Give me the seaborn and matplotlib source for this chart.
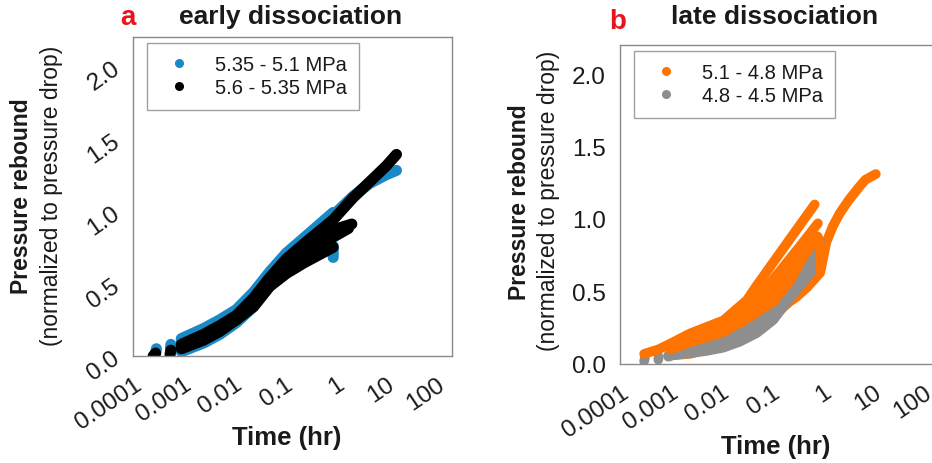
import numpy as np
import pandas as pd
import seaborn as sns
import matplotlib
matplotlib.use("Agg")
import matplotlib.pyplot as plt
from matplotlib.lines import Line2D

# ---------------- data ----------------
# panel a: early dissociation
a_series = ["5.35 - 5.1 MPa", "5.6 - 5.35 MPa"]
a_colors = ["#1a8ac6", "#000000"]

a_t = [0.0009, 0.0025, 0.0052, 0.011, 0.024, 0.05, 0.107, 0.23, 0.9]

blue_run1_t = a_t + [2.2, 4.7, 10, 16]
blue_run1_y = [0.11, 0.18, 0.24, 0.31, 0.43, 0.57, 0.70, 0.80, 0.97, 1.10, 1.19, 1.25, 1.28]
blue_run2_t = a_t + [0.9]
blue_run2_y = [0.03, 0.09, 0.15, 0.23, 0.34, 0.48, 0.57, 0.64, 0.76, 0.68]
blue_run3_t = a_t
blue_run3_y = [0.12, 0.19, 0.25, 0.32, 0.44, 0.58, 0.71, 0.81, 0.99]
blue_dot1_t = [0.00028, 0.00029]
blue_dot1_y = [0.02, 0.05]
blue_dot2_t = [0.00055, 0.00056]
blue_dot2_y = [0.05, 0.08]

black_run1_t = a_t + [2.2, 4.7, 10, 16]
black_run1_y = [0.08, 0.15, 0.21, 0.28, 0.40, 0.54, 0.67, 0.77, 0.94, 1.09, 1.20, 1.31, 1.39]
black_run2_t = a_t + [2.1]
black_run2_y = [0.07, 0.13, 0.19, 0.26, 0.37, 0.51, 0.62, 0.71, 0.87, 0.91]
black_run3_t = a_t + [1.8]
black_run3_y = [0.06, 0.12, 0.18, 0.25, 0.36, 0.50, 0.60, 0.68, 0.82, 0.88]
black_run4_t = a_t
black_run4_y = [0.05, 0.11, 0.17, 0.25, 0.34, 0.48, 0.57, 0.64, 0.75]
black_dot1_t = [0.00025, 0.00028]
black_dot1_y = [0.0, 0.02]
black_dot2_t = [0.00054, 0.00056]
black_dot2_y = [0.01, 0.04]

# panel b: late dissociation
b_series = ["5.1 - 4.8 MPa", "4.8 - 4.5 MPa"]
b_colors = ["#ff7300", "#8e8e8e"]

orange_run1_t = [0.0003, 0.00057, 0.00098, 0.0024, 0.011, 0.032, 0.05, 0.106, 0.225, 0.7]
orange_run1_y = [0.07, 0.10, 0.14, 0.21, 0.30, 0.44, 0.54, 0.70, 0.86, 1.10]
orange_run2_t = [0.00098, 0.0024, 0.011, 0.032, 0.05, 0.144, 0.355, 0.81]
orange_run2_y = [0.12, 0.18, 0.26, 0.38, 0.45, 0.64, 0.81, 0.97]
orange_run3_t = [0.00098, 0.0024, 0.011, 0.032, 0.05, 0.106, 0.225, 0.48, 0.8, 0.92, 0.92, 0.9]
orange_run3_y = [0.10, 0.15, 0.22, 0.32, 0.38, 0.51, 0.62, 0.77, 0.88, 0.82, 0.74, 0.65]
orange_run5_t = [0.0011, 0.0051, 0.023, 0.106, 0.225, 0.48, 0.8]
orange_run5_y = [0.12, 0.19, 0.28, 0.43, 0.57, 0.78, 0.87]
orange_run4_t = [0.00098, 0.0024, 0.011, 0.05, 0.106, 0.225, 0.3, 0.5, 0.9, 1.19,
                 1.6, 2.2, 3.3, 5, 7, 11.3]
orange_run4_y = [0.06, 0.07, 0.13, 0.24, 0.33, 0.43, 0.46, 0.53, 0.63, 0.84,
                 0.95, 1.04, 1.13, 1.21, 1.27, 1.31]

gray_t = [0.0009, 0.0011, 0.0051, 0.011, 0.023, 0.05, 0.106, 0.225, 0.48, 0.9]
gray_run1_y = [0.06, 0.067, 0.137, 0.177, 0.227, 0.287, 0.377, 0.517, 0.727, 0.847]
gray_run2_y = [0.055, 0.063, 0.113, 0.145, 0.19, 0.25, 0.34, 0.485, 0.66, 0.78]
gray_run3_y = [0.05, 0.06, 0.09, 0.113, 0.153, 0.213, 0.303, 0.453, 0.593, 0.713]
gray_dot1_t = [0.0003, 0.00031]
gray_dot1_y = [0.02, 0.04]
gray_dot2_t = [0.00057, 0.00058]
gray_dot2_y = [0.03, 0.05]

x_ticks = [0.0001, 0.001, 0.01, 0.1, 1, 10, 100]
x_tick_labels = ["0.0001", "0.001", "0.01", "0.1", "1", "10", "100"]
y_ticks = [0.0, 0.5, 1.0, 1.5, 2.0]
y_tick_labels = ["0.0", "0.5", "1.0", "1.5", "2.0"]


def build(runs):
    rows = []
    for layer, ser, run, ts, ys in runs:
        for t, y in zip(ts, ys):
            rows.append({"layer": layer, "series": ser, "run": run, "time": t, "value": y})
    return pd.DataFrame(rows)


df_a = build([
    (0, a_series[0], "b1", blue_run1_t, blue_run1_y),
    (0, a_series[0], "b2", blue_run2_t, blue_run2_y),
    (0, a_series[0], "b3", blue_run3_t, blue_run3_y),
    (0, a_series[0], "b4", blue_dot1_t, blue_dot1_y),
    (0, a_series[0], "b5", blue_dot2_t, blue_dot2_y),
    (1, a_series[1], "k1", black_run1_t, black_run1_y),
    (1, a_series[1], "k2", black_run2_t, black_run2_y),
    (1, a_series[1], "k3", black_run3_t, black_run3_y),
    (1, a_series[1], "k4", black_run4_t, black_run4_y),
    (1, a_series[1], "k5", black_dot1_t, black_dot1_y),
    (1, a_series[1], "k6", black_dot2_t, black_dot2_y),
])
df_b = build([
    (0, b_series[0], "o4", orange_run4_t, orange_run4_y),
    (1, b_series[1], "g1", gray_t, gray_run1_y),
    (1, b_series[1], "g2", gray_t, gray_run2_y),
    (1, b_series[1], "g3", gray_t, gray_run3_y),
    (1, b_series[1], "g5", gray_dot1_t, gray_dot1_y),
    (1, b_series[1], "g6", gray_dot2_t, gray_dot2_y),
    (2, b_series[0], "o5", orange_run5_t, orange_run5_y),
    (2, b_series[0], "o3", orange_run3_t, orange_run3_y),
    (2, b_series[0], "o2", orange_run2_t, orange_run2_y),
    (2, b_series[0], "o1", orange_run1_t, orange_run1_y),
])

# ---------------- style ----------------
sns.set_style("white")
plt.rcParams["font.family"] = ["Liberation Sans", "DejaVu Sans"]

SPINE = "#8a8a8a"
TXT = "#1a1a1a"

fig = plt.figure(figsize=(9.32, 4.64), dpi=100)
ax_a = fig.add_axes([133 / 932, 1 - 357 / 464, 319 / 932, 319 / 464])
ax_b = fig.add_axes([620 / 932, 1 - 365 / 464, 319 / 932, 319 / 464])


def draw(ax, df, series, colors, lw):
    pal = dict(zip(series, colors))
    for layer in sorted(df["layer"].unique()):
        sub = df[df["layer"] == layer]
        sns.lineplot(data=sub, x="time", y="value", hue="series",
                     palette={s: pal[s] for s in sub["series"].unique()},
                     units="run", estimator=None, sort=False, linewidth=lw,
                     legend=False, ax=ax)
    for ln in ax.lines:
        ln.set_solid_capstyle("round")
        ln.set_solid_joinstyle("round")
    ax.set_xscale("log")
    ax.set_xlim(1e-4, 200)
    ax.set_ylim(0, 2.2)
    ax.set_xticks(x_ticks)
    ax.set_xticklabels(x_tick_labels)
    ax.minorticks_off()
    ax.set_yticks(y_ticks)
    ax.set_yticklabels(y_tick_labels)
    ax.set_xlabel("")
    ax.set_ylabel("")
    for s in ax.spines.values():
        s.set_color(SPINE)
        s.set_linewidth(1.0)
    ax.tick_params(axis="both", which="major", length=5, width=1, color=SPINE,
                   labelsize=17.5, labelcolor=TXT, direction="out")
    for lbl in ax.get_xticklabels():
        lbl.set_rotation(34)
        lbl.set_ha("right")
        lbl.set_va("top")
        lbl.set_rotation_mode("anchor")
    handles = [Line2D([], [], marker="o", ls="", color=c, markersize=5.5) for c in colors]
    leg = ax.legend(handles, series, loc="upper left", bbox_to_anchor=(0.044, 0.98),
                    borderaxespad=0, fontsize=14.5, frameon=True, fancybox=False,
                    borderpad=0.6, handlelength=2.0, handletextpad=0.75,
                    labelspacing=0.2)
    leg.get_frame().set_edgecolor(SPINE)
    leg.get_frame().set_linewidth(1.0)
    for t in leg.get_texts():
        t.set_color(TXT)


draw(ax_a, df_a, a_series, a_colors, 8)
draw(ax_b, df_b, b_series, b_colors, 7)

for lbl in ax_a.get_yticklabels():
    lbl.set_rotation(35)
    lbl.set_ha("right")
    lbl.set_va("center")
    lbl.set_rotation_mode("anchor")
ax_a.tick_params(axis="x", pad=7)
ax_b.tick_params(axis="x", pad=7)
ax_a.tick_params(axis="y", pad=6)
ax_b.tick_params(axis="y", pad=5)

# titles
fig.text(128 / 932, 1 - 18 / 464, "a", color="#e8141c", fontsize=20, fontweight="bold",
         ha="center", va="center")
fig.text(291 / 932, 1 - 17 / 464, "early dissociation", color=TXT, fontsize=19,
         fontweight="bold", ha="center", va="center")
fig.text(618 / 932, 1 - 22 / 464, "b", color="#e8141c", fontsize=20, fontweight="bold",
         ha="center", va="center")
fig.text(775 / 932, 1 - 17 / 464, "late dissociation", color=TXT, fontsize=19,
         fontweight="bold", ha="center", va="center")

# axis labels
fig.text(22 / 932, 1 - 196 / 464, "Pressure rebound", rotation=90, fontsize=16.5,
         fontweight="bold", color=TXT, ha="center", va="center")
fig.text(52 / 932, 1 - 196 / 464, "(normalized to pressure drop)", rotation=90,
         fontsize=16.5, color=TXT, ha="center", va="center")
fig.text(519 / 932, 1 - 202 / 464, "Pressure rebound", rotation=90, fontsize=16.5,
         fontweight="bold", color=TXT, ha="center", va="center")
fig.text(549 / 932, 1 - 201 / 464, "(normalized to pressure drop)", rotation=90,
         fontsize=16.5, color=TXT, ha="center", va="center")
fig.text(287 / 932, 1 - 438 / 464, "Time (hr)", fontsize=18.5, fontweight="bold",
         color=TXT, ha="center", va="center")
fig.text(776 / 932, 1 - 447 / 464, "Time (hr)", fontsize=18.5, fontweight="bold",
         color=TXT, ha="center", va="center")

fig.savefig("out.png", dpi=100)
